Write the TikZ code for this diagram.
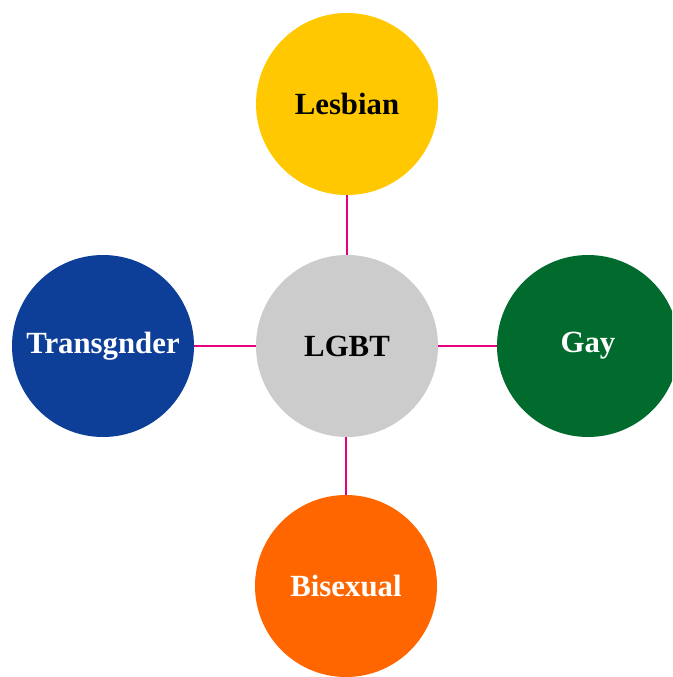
\documentclass[tikz,border=0pt]{standalone}
\usepackage{fontspec}
\setmainfont{Liberation Serif}
\definecolor{cLes}{HTML}{FFC800}
\definecolor{cMid}{HTML}{CCCCCC}
\definecolor{cTra}{HTML}{0D3F99}
\definecolor{cGay}{HTML}{006B2D}
\definecolor{cBi}{HTML}{FF6600}
\definecolor{cLine}{HTML}{E6007E}
\tikzset{
  bubble/.style={circle, minimum size=182pt, inner sep=0pt, font=\fontsize{30.8}{36}\selectfont\bfseries},
  link/.style={draw=cLine, line width=1.8pt}
}
\begin{document}
\begin{tikzpicture}[x=1pt,y=-1pt]
\useasboundingbox (0,0) rectangle (672,677);
\begin{scope}
\clip (0,0) rectangle (672,677);
\node[bubble, fill=cLes, text=black] (les) at (347,104) {Lesbian};
\node[bubble, fill=cMid, text=black] (lgbt) at (347,346) {LGBT};
\node[bubble, fill=cTra, text=white] (tra) at (103,346) {Transgnder};
\node[bubble, fill=cGay, text=white] (gay) at (588,346) {Gay};
\node[bubble, fill=cBi, text=white] (bi) at (346,586) {Bisexual};
\draw[link] (les.south) -- (les.south |- lgbt.north);
\draw[link] (tra.east) -- (lgbt.west);
\draw[link] (lgbt.east) -- (gay.west);
\draw[link] (bi.north |- lgbt.south) -- (bi.north);
\end{scope}
\end{tikzpicture}
\end{document}
